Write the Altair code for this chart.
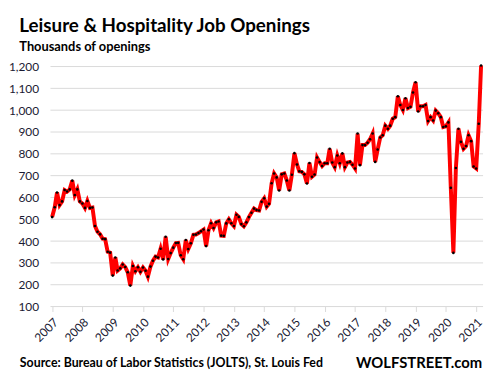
import altair as alt
import pandas as pd

# Monthly job openings, leisure & hospitality (thousands), Jan 2007 onward
v2007 = [510, 555, 623, 565, 582, 634, 627, 637, 677, 611, 637, 582]
v2008 = [572, 552, 584, 552, 554, 469, 443, 431, 411, 409, 351, 347]
v2009 = [242, 325, 265, 275, 293, 281, 257, 196, 286, 262, 280, 259]
v2010 = [279, 264, 237, 283, 310, 329, 325, 365, 316, 420, 318, 345]
v2011 = [370, 391, 392, 335, 317, 405, 364, 390, 429, 430, 437, 445]
v2012 = [453, 377, 450, 482, 460, 486, 490, 425, 424, 481, 500, 482]
v2013 = [469, 521, 511, 478, 468, 486, 510, 530, 549, 542, 540, 580]
v2014 = [596, 558, 571, 665, 710, 692, 632, 706, 710, 678, 632, 704]
v2015 = [803, 751, 720, 717, 706, 664, 758, 695, 705, 783, 762, 744]
v2016 = [757, 757, 823, 760, 739, 792, 757, 802, 739, 760, 763, 750]
v2017 = [733, 893, 748, 840, 840, 851, 867, 893, 763, 820, 875, 885]
v2018 = [929, 915, 929, 961, 968, 1064, 1024, 1001, 1055, 1010, 1016, 1081]
v2019 = [1128, 994, 1018, 1018, 1024, 950, 968, 953, 998, 986, 968, 923]
v2020 = [926, 944, 644, 346, 735, 915, 855, 823, 836, 885, 858, 742]
v2021 = [733, 938, 1205]

openings = (v2007 + v2008 + v2009 + v2010 + v2011 + v2012 + v2013 + v2014
            + v2015 + v2016 + v2017 + v2018 + v2019 + v2020 + v2021)
dates = [f"{2007 + i // 12}-{i % 12 + 1:02d}-01T00:00:00" for i in range(len(openings))]

tick_years = list(range(2007, 2022))
y_ticks = list(range(100, 1300, 100))

title_text = "Leisure & Hospitality Job Openings"
subtitle_text = "Thousands of openings"
source_text = "Source: Bureau of Labor Statistics (JOLTS), St. Louis Fed"
brand_text = "WOLFSTREET.com"

df = pd.DataFrame({"date": dates, "value": openings})
grid_df = pd.DataFrame({"value": y_ticks})

FONT = "Lato"
LABEL_COLOR = "#1a1a33"
GRID = "#d9d9d9"

x_scale = alt.Scale(domain=[alt.DateTime(year=2006, month=12, date=12),
                            alt.DateTime(year=2021, month=3, date=25)])
y_scale = alt.Scale(domain=[100, 1200], nice=False, zero=False)

x_axis = alt.Axis(
    title=None,
    values=[alt.DateTime(year=y, month=1, date=1) for y in tick_years],
    format="%Y",
    labelAngle=-45,
    labelFontSize=12,
    labelFont=FONT,
    labelColor=LABEL_COLOR,
    labelPadding=5,
    labelOverlap=False,
    grid=False,
    domain=False,
    tickColor=GRID,
    tickSize=5,
    tickWidth=1,
)
y_axis = alt.Axis(
    title=None,
    values=y_ticks,
    format=",d",
    labelFontSize=12,
    labelFont=FONT,
    labelColor=LABEL_COLOR,
    labelPadding=12,
    labelOverlap=False,
    ticks=False,
    tickSize=0,
    domain=False,
    grid=False,
)

gridlines = alt.Chart(grid_df).mark_rule(color=GRID, strokeWidth=1).encode(
    y=alt.Y("value:Q", scale=y_scale, axis=y_axis),
    x=alt.value(0),
    x2=alt.value(438),
)

base = alt.Chart(df).encode(
    x=alt.X("date:T", scale=x_scale, axis=x_axis),
    y=alt.Y("value:Q", scale=y_scale, axis=y_axis),
)
line = base.mark_line(color="#ff0000", strokeWidth=4, clip=False)
pts = base.mark_circle(color="#000000", size=7, opacity=1, clip=False)

source = alt.Chart(pd.DataFrame({"t": [source_text]})).mark_text(
    align="left", baseline="alphabetic", font=FONT, fontWeight="bold", fontSize=12.5, color="black"
).encode(x=alt.value(-31), y=alt.value(304), text="t:N")

brand = alt.Chart(pd.DataFrame({"t": [brand_text]})).mark_text(
    align="right", baseline="alphabetic", font=FONT, fontWeight="bold", fontSize=15, color="black"
).encode(x=alt.value(437), y=alt.value(305), text="t:N")

chart = alt.layer(gridlines, line, pts, source, brand).properties(
    width=438,
    height=243,
    padding={"top": 6, "left": 0, "right": 0, "bottom": 0},
    title=alt.TitleParams(
        text=title_text,
        subtitle=subtitle_text,
        anchor="start",
        font=FONT,
        fontSize=19,
        fontWeight="bold",
        color="black",
        subtitleFont=FONT,
        subtitleFontSize=13,
        subtitleFontWeight="bold",
        subtitleColor="black",
        subtitlePadding=5,
        offset=4,
        dx=11,
    ),
).configure(font=FONT).configure_view(stroke=None)

chart.save("out.html", embed_options={"renderer": "svg", "actions": False})
